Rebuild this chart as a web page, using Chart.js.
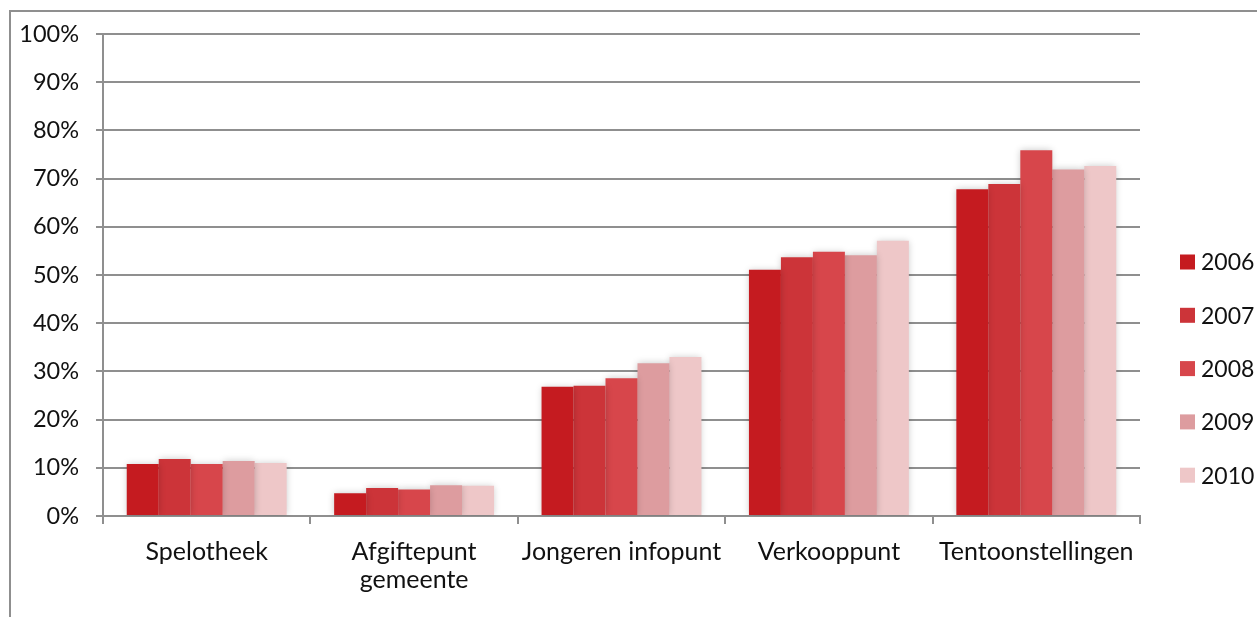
<!DOCTYPE html>
<html>
<head>
<meta charset="utf-8">
<script src="https://cdn.jsdelivr.net/npm/chart.js@4"></script>
<style>
    html, body { margin: 0; padding: 0; background: #fff; }
    #wrap { position: relative; width: 1257px; height: 617px; overflow: hidden; }
    #frame { position: absolute; left: 9px; top: 10px; width: 1300px; height: 700px;
             border-left: 2px solid #8f8f8f; border-top: 2px solid #8f8f8f; }
    #grafica { position: absolute; left: 0; top: 0; }
</style>
</head>
<body>
<div id="wrap">
    <div id="frame"></div>
    <canvas id="grafica" width="1257" height="617"></canvas>
</div>
<script>
// --- DATOS ---
const categorieen = ['Spelotheek', ['Afgiftepunt', 'gemeente'], 'Jongeren infopunt', 'Verkooppunt', 'Tentoonstellingen'];
const jaren = ['2006', '2007', '2008', '2009', '2010'];
const waarden2006 = [10.8, 4.7, 26.8, 51.1, 67.8];
const waarden2007 = [11.8, 5.8, 27.0, 53.7, 68.9];
const waarden2008 = [10.8, 5.5, 28.6, 54.8, 75.9];
const waarden2009 = [11.4, 6.4, 31.7, 54.1, 71.9];
const waarden2010 = [11.0, 6.3, 33.0, 57.1, 72.6];
const yTicks = [0, 10, 20, 30, 40, 50, 60, 70, 80, 90, 100];

const kleuren = ['#c51b20', '#cc3439', '#d7464b', '#dd9c9f', '#eec7c8'];
const reeksen = [waarden2006, waarden2007, waarden2008, waarden2009, waarden2010];

const FONT = 'Lato';
const GRIJS = '#8f8f8f';

document.addEventListener('DOMContentLoaded', function () {
    Chart.defaults.font.family = FONT;
    Chart.defaults.color = '#111';

    // zachte schaduw rond de staven
    const schaduw = {
        id: 'schaduw',
        beforeDatasetsDraw(chart) {
            const ctx = chart.ctx;
            ctx.save();
            ctx.shadowColor = 'rgba(0,0,0,0.22)';
            ctx.shadowBlur = 7;
        },
        afterDatasetsDraw(chart) {
            chart.ctx.restore();
        }
    };

    // legenda rechts, zoals in het origineel
    const legenda = {
        id: 'legenda',
        afterDraw(chart) {
            const ctx = chart.ctx;
            ctx.save();
            ctx.font = '23px ' + FONT;
            ctx.textBaseline = 'middle';
            ctx.textAlign = 'left';
            chart.data.datasets.forEach((ds, i) => {
                const y = 262 + i * 53.3;
                ctx.fillStyle = ds.backgroundColor;
                ctx.fillRect(1180, y - 7.5, 15, 15);
                ctx.fillStyle = '#111';
                ctx.fillText(ds.label, 1201, y + 1);
            });
            ctx.restore();
        }
    };

    const ctx = document.getElementById('grafica').getContext('2d');
    new Chart(ctx, {
        type: 'bar',
        data: {
            labels: categorieen,
            datasets: jaren.map((jaar, i) => ({
                label: jaar,
                data: reeksen[i],
                backgroundColor: kleuren[i],
                borderWidth: 0,
                categoryPercentage: 0.771,
                barPercentage: 1.0
            }))
        },
        options: {
            responsive: false,
            animation: false,
            layout: { padding: { left: 0, right: 117, top: 34, bottom: 0 } },
            plugins: {
                legend: { display: false },
                tooltip: { enabled: false }
            },
            scales: {
                x: {
                    grid: { drawOnChartArea: false, drawTicks: true, tickLength: 8, color: GRIJS, lineWidth: 2 },
                    border: { color: GRIJS, width: 2 },
                    ticks: { font: { size: 25, lineHeight: 1.13 }, padding: 14, maxRotation: 0, autoSkip: false },
                    afterFit(scale) { scale.height = 101; }
                },
                y: {
                    min: 0,
                    max: 100,
                    afterBuildTicks(scale) { scale.ticks = yTicks.map(v => ({ value: v })); },
                    grid: { color: GRIJS, lineWidth: 2, tickLength: 7 },
                    border: { color: GRIJS, width: 2 },
                    ticks: { font: { size: 23.5 }, padding: 17, callback: v => v + '%' },
                    afterFit(scale) { scale.width = 103; }
                }
            }
        },
        plugins: [schaduw, legenda]
    });
});
</script>
</body>
</html>
